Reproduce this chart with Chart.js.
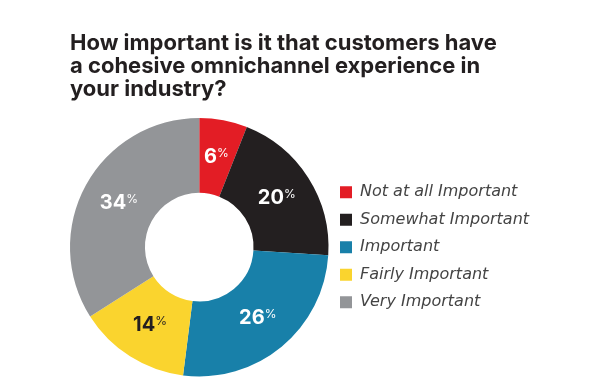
<!DOCTYPE html>
<html>
<head>
<meta charset="utf-8">
<script src="https://cdn.jsdelivr.net/npm/chart.js@4.4.0/dist/chart.umd.min.js"></script>
<style>
  html, body { margin: 0; padding: 0; background: #fff; }
  #wrap { width: 607px; height: 389px; }
</style>
</head>
<body>
<div id="wrap"><canvas id="omniChart" width="607" height="389"></canvas></div>
<script>
const titleLines = [
    'How important is it that customers have',
    'a cohesive omnichannel experience in',
    'your industry?'
];
const categories = ['Not at all Important', 'Somewhat Important', 'Important', 'Fairly Important', 'Very Important'];
const shares = [6, 20, 26, 14, 34];
const sliceColors = ['#e31d25', '#231f20', '#1880a9', '#fad42e', '#939598'];
const labelColors = ['#ffffff', '#ffffff', '#ffffff', '#231f20', '#ffffff'];

const legendFont = { family: '"DejaVu Sans", sans-serif', size: 16, style: 'italic', weight: 'normal' };

// draws "20%" style labels with a small raised percent sign
const sliceLabels = {
    id: 'sliceLabels',
    afterDatasetsDraw(chart) {
        const ctx = chart.ctx;
        const meta = chart.getDatasetMeta(0);
        meta.data.forEach((arc, i) => {
            const pos = arc.tooltipPosition();
            const num = String(shares[i]);
            ctx.save();
            ctx.font = 'bold 20px Inter, sans-serif';
            const numW = ctx.measureText(num).width;
            ctx.font = '12px Inter, sans-serif';
            const pctW = ctx.measureText('%').width;
            const x0 = pos.x - (numW + pctW) / 2;
            ctx.fillStyle = labelColors[i];
            ctx.textBaseline = 'alphabetic';
            ctx.font = 'bold 20px Inter, sans-serif';
            ctx.fillText(num, x0, pos.y + 6);
            ctx.font = '12px Inter, sans-serif';
            ctx.fillText('%', x0 + numW, pos.y);
            ctx.restore();
        });
    }
};

const ctx = document.getElementById('omniChart').getContext('2d');

// work out how wide the legend will be so the ring ends near x = 329
ctx.font = `${legendFont.style} ${legendFont.weight} ${legendFont.size}px ${legendFont.family}`;
const widestLabel = Math.max(...categories.map(c => ctx.measureText(c).width));
const legendWidth = 10 + 12 + legendFont.size / 2 + widestLabel;
const rightPad = Math.max(0, 607 - 340 - legendWidth);

const chart = new Chart(ctx, {
    type: 'doughnut',
    data: {
        labels: categories,
        datasets: [{
            data: shares,
            backgroundColor: sliceColors,
            borderWidth: 0,
            hoverOffset: 0
        }]
    },
    options: {
        responsive: false,
        animation: false,
        cutout: '42%',
        layout: {
            padding: { left: 70, right: rightPad, top: 0, bottom: 12 }
        },
        plugins: {
            title: {
                display: true,
                text: titleLines,
                align: 'start',
                color: '#231f20',
                font: { family: 'Inter, sans-serif', size: 22, weight: 'bold', lineHeight: 1.05 },
                padding: { top: 32, bottom: 16 }
            },
            legend: {
                position: 'right',
                align: 'center',
                fullSize: false,
                labels: {
                    boxWidth: 12,
                    boxHeight: 12,
                    padding: 11.5,
                    color: '#444444',
                    font: legendFont
                }
            },
            tooltip: { enabled: false }
        }
    },
    plugins: [sliceLabels]
});
</script>
</body>
</html>
